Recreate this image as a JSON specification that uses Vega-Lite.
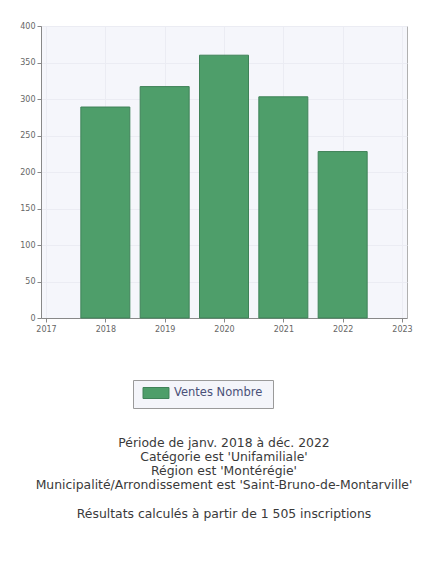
{
  "$schema": "https://vega.github.io/schema/vega-lite/v6.json",
  "width": 366,
  "height": 292,
  "autosize": {"type": "none"},
  "padding": {"left": 41, "top": 26, "right": 22, "bottom": 260},
  "background": "white",
  "data": {"values": [
    {"annee": 2018, "ventes": 289, "serie": "Ventes  Nombre"},
    {"annee": 2019, "ventes": 317, "serie": "Ventes  Nombre"},
    {"annee": 2020, "ventes": 360, "serie": "Ventes  Nombre"},
    {"annee": 2021, "ventes": 303, "serie": "Ventes  Nombre"},
    {"annee": 2022, "ventes": 228, "serie": "Ventes  Nombre"}
  ]},
  "title": {
    "text": ["Période de janv. 2018 à déc. 2022", "Catégorie est 'Unifamiliale'", "Région est 'Montérégie'", "Municipalité/Arrondissement est 'Saint-Bruno-de-Montarville'"],
    "subtitle": "Résultats calculés à partir de 1 505 inscriptions",
    "orient": "bottom",
    "anchor": "middle",
    "offset": 28,
    "font": "DejaVu Sans",
    "fontSize": 12.4,
    "fontWeight": "normal",
    "color": "#3a3a3a",
    "lineHeight": 14,
    "subtitleFont": "DejaVu Sans",
    "subtitleFontSize": 12.4,
    "subtitleColor": "#3a3a3a",
    "subtitlePadding": 17
  },
  "mark": {"type": "bar", "size": 49, "stroke": "#3f8258", "strokeWidth": 1},
  "encoding": {
    "x": {
      "field": "annee", "type": "quantitative",
      "scale": {"domain": [2017, 2023], "nice": false, "zero": false},
      "axis": {"title": null, "values": [2017, 2018, 2019, 2020, 2021, 2022, 2023], "format": "d", "grid": true}
    },
    "y": {
      "field": "ventes", "type": "quantitative",
      "scale": {"domain": [0, 400], "nice": false},
      "axis": {"title": null, "values": [0, 50, 100, 150, 200, 250, 300, 350, 400], "grid": true}
    },
    "color": {
      "field": "serie", "type": "nominal",
      "scale": {"range": ["#4e9e6a"]},
      "legend": {
        "title": null,
        "orient": "none",
        "legendX": 92,
        "legendY": 354,
        "fillColor": "#f4f5fa",
        "strokeColor": "#9a9a9a",
        "padding": 7,
        "symbolType": "M-2.36,-1H2.36V1H-2.36Z",
        "symbolSize": 121,
        "symbolOffset": 10,
        "symbolStrokeColor": "#3f8258",
        "symbolStrokeWidth": 1,
        "symbolOpacity": 1,
        "labelFont": "DejaVu Sans",
        "labelFontSize": 11.5,
        "labelColor": "#4a5078",
        "labelOffset": 12
      }
    }
  },
  "config": {
    "view": {"fill": "#f5f6fb", "stroke": "#b0b0b0", "strokeWidth": 1},
    "axis": {
      "labelFont": "DejaVu Sans",
      "labelFontSize": 8,
      "labelColor": "#666666",
      "domainColor": "#888888",
      "tickColor": "#888888",
      "tickSize": 4,
      "gridColor": "#ebecf3",
      "gridWidth": 1
    },
    "axisY": {"labelPadding": 2},
    "axisX": {"labelPadding": 3}
  }
}
